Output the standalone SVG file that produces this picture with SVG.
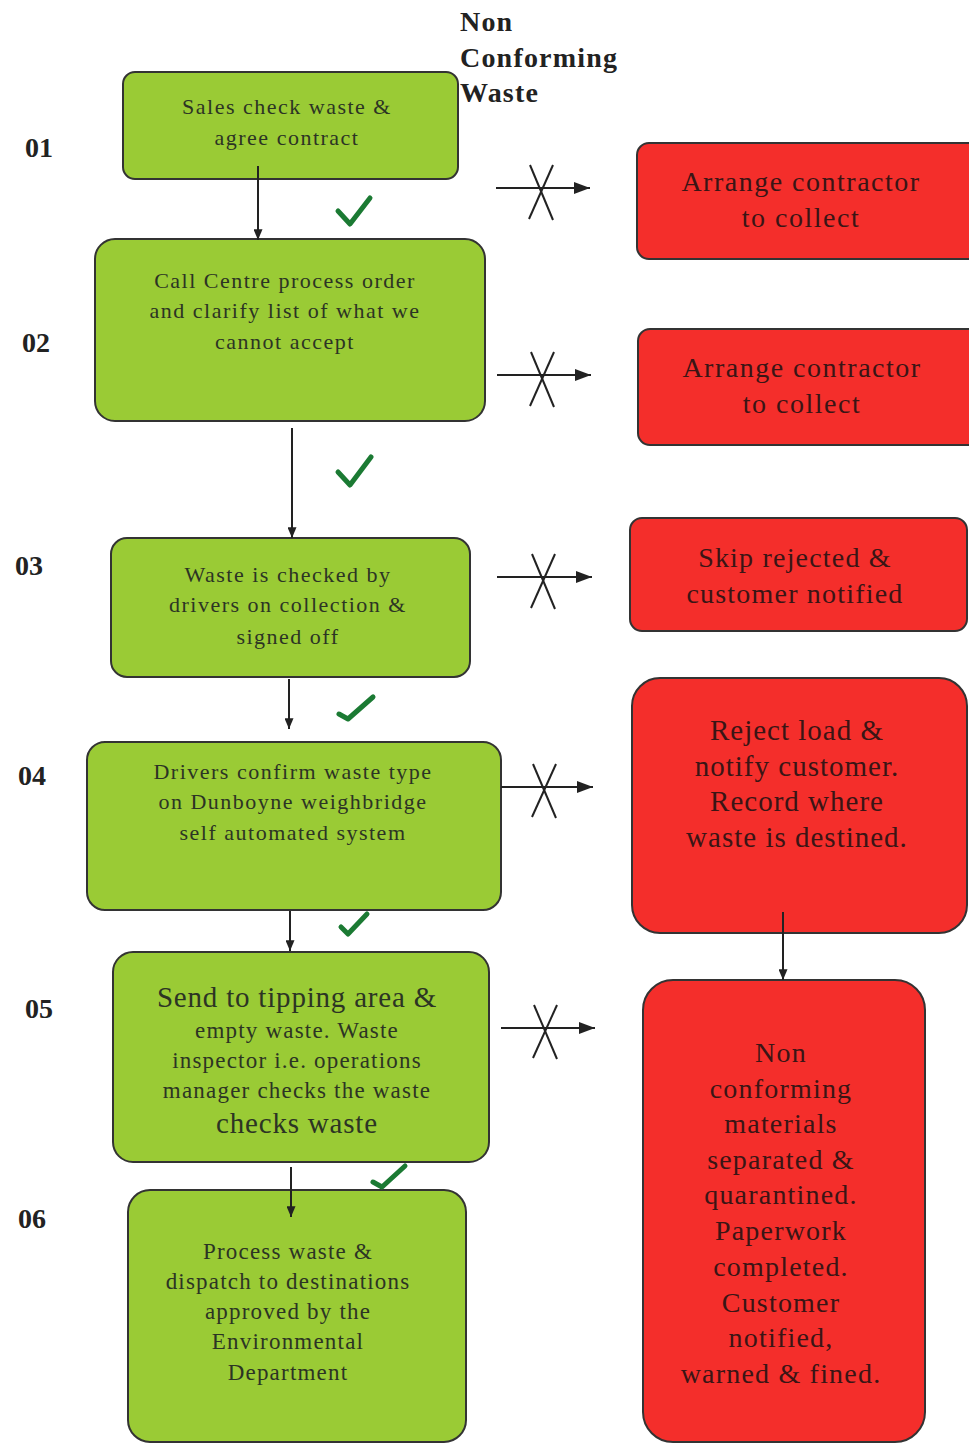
<svg xmlns="http://www.w3.org/2000/svg" width="969" height="1444" viewBox="0 0 969 1444">
<defs>
<marker id="ah" viewBox="0 0 10 12" refX="5" refY="12" markerWidth="9" markerHeight="11" markerUnits="userSpaceOnUse" orient="0">
<path d="M0,0 L10,0 L5,12 Z" fill="#222"/>
</marker>
<marker id="ahx" viewBox="0 0 16 12" refX="16" refY="6" markerWidth="16" markerHeight="12" markerUnits="userSpaceOnUse" orient="auto">
<path d="M0,0 L16,6 L0,12 Z" fill="#222"/>
</marker>
</defs>
<style>
.g{fill:#9acb35;stroke:#333;stroke-width:2}
.r{fill:#f42e2b;stroke:#333;stroke-width:2}
.t{font-family:"Liberation Serif",serif;text-anchor:middle;fill:#2c3424}
.tr{font-family:"Liberation Serif",serif;text-anchor:middle;fill:#3a1515}
.s{font-size:22px;letter-spacing:1.5px}
.m{font-size:23px;letter-spacing:1.2px}
.b{font-size:29px;letter-spacing:0.8px}
.r12{font-size:28px;letter-spacing:1.5px}
.r3{font-size:28px;letter-spacing:1.2px}
.r4{font-size:29px;letter-spacing:1px}
.r5{font-size:28px;letter-spacing:1.2px}
.num{font-family:"Liberation Serif",serif;font-weight:bold;font-size:28px;fill:#222}
.hd{font-family:"Liberation Serif",serif;font-weight:bold;font-size:28px;letter-spacing:1.2px;fill:#222}
.ln{stroke:#222;stroke-width:2;fill:none}
.ck{stroke:#1b7a33;stroke-width:5;fill:none;stroke-linecap:round;stroke-linejoin:round}
</style>
<rect width="969" height="1444" fill="#fff"/>

<g id="labels">
<text class="hd" x="460" y="31">Non</text>
<text class="hd" x="460" y="67">Conforming</text>
<text class="hd" x="460" y="102">Waste</text>
<text class="num" x="25" y="157">01</text>
<text class="num" x="22" y="352">02</text>
<text class="num" x="15" y="575">03</text>
<text class="num" x="18" y="785">04</text>
<text class="num" x="25" y="1018">05</text>
<text class="num" x="18" y="1228">06</text>
</g>

<g id="n01">
<rect class="g" x="123" y="72" width="335" height="107" rx="12"/>
<text class="t s" x="287" y="114">Sales check waste &amp;</text>
<text class="t s" x="287" y="145">agree contract</text>
</g>
<g id="n02">
<rect class="g" x="95" y="239" width="390" height="182" rx="20"/>
<text class="t s" x="285" y="288">Call Centre process order</text>
<text class="t s" x="285" y="318">and clarify list of what we</text>
<text class="t s" x="285" y="349">cannot accept</text>
</g>
<g id="n03">
<rect class="g" x="111" y="538" width="359" height="139" rx="16"/>
<text class="t s" x="288" y="582">Waste is checked by</text>
<text class="t s" x="288" y="612">drivers on collection &amp;</text>
<text class="t s" x="288" y="644">signed off</text>
</g>
<g id="n04">
<rect class="g" x="87" y="742" width="414" height="168" rx="18"/>
<text class="t s" x="293" y="779">Drivers confirm waste type</text>
<text class="t s" x="293" y="809">on Dunboyne weighbridge</text>
<text class="t s" x="293" y="840">self automated system</text>
</g>
<g id="n05">
<rect class="g" x="113" y="952" width="376" height="210" rx="20"/>
<text class="t b" x="297" y="1007">Send to tipping area &amp;</text>
<text class="t m" x="297" y="1038">empty waste. Waste</text>
<text class="t m" x="297" y="1068">inspector i.e. operations</text>
<text class="t m" x="297" y="1098">manager checks the waste</text>
<text class="t b" x="297" y="1133">checks waste</text>
</g>
<g id="n06">
<rect class="g" x="128" y="1190" width="338" height="252" rx="22"/>
<text class="t m" x="288" y="1259">Process waste &amp;</text>
<text class="t m" x="288" y="1289">dispatch to destinations</text>
<text class="t m" x="288" y="1319">approved by the</text>
<text class="t m" x="288" y="1349">Environmental</text>
<text class="t m" x="288" y="1380">Department</text>
</g>

<g id="r1">
<rect class="r" x="637" y="143" width="345" height="116" rx="12"/>
<text class="tr r12" x="801" y="191">Arrange contractor</text>
<text class="tr r12" x="801" y="227">to collect</text>
</g>
<g id="r2">
<rect class="r" x="638" y="329" width="345" height="116" rx="12"/>
<text class="tr r12" x="802" y="377">Arrange contractor</text>
<text class="tr r12" x="802" y="413">to collect</text>
</g>
<g id="r3">
<rect class="r" x="630" y="518" width="337" height="113" rx="12"/>
<text class="tr r3" x="795" y="567">Skip rejected &amp;</text>
<text class="tr r3" x="795" y="603">customer notified</text>
</g>
<g id="r4">
<rect class="r" x="632" y="678" width="335" height="255" rx="28"/>
<text class="tr r4" x="797" y="740">Reject load &amp;</text>
<text class="tr r4" x="797" y="776">notify customer.</text>
<text class="tr r4" x="797" y="811">Record where</text>
<text class="tr r4" x="797" y="847">waste is destined.</text>
</g>
<g id="r5">
<rect class="r" x="643" y="980" width="282" height="462" rx="30"/>
<text class="tr r5" x="781" y="1062">Non</text>
<text class="tr r5" x="781" y="1098">conforming</text>
<text class="tr r5" x="781" y="1133">materials</text>
<text class="tr r5" x="781" y="1169">separated &amp;</text>
<text class="tr r5" x="781" y="1204">quarantined.</text>
<text class="tr r5" x="781" y="1240">Paperwork</text>
<text class="tr r5" x="781" y="1276">completed.</text>
<text class="tr r5" x="781" y="1312">Customer</text>
<text class="tr r5" x="781" y="1347">notified,</text>
<text class="tr r5" x="781" y="1383">warned &amp; fined.</text>
</g>

<g id="connectors">
<line class="ln" x1="258" y1="166" x2="258" y2="240" marker-end="url(#ah)"/>
<line class="ln" x1="292" y1="428" x2="292" y2="538" marker-end="url(#ah)"/>
<line class="ln" x1="289" y1="679" x2="289" y2="729" marker-end="url(#ah)"/>
<line class="ln" x1="290" y1="911" x2="290" y2="951" marker-end="url(#ah)"/>
<line class="ln" x1="291" y1="1167" x2="291" y2="1217" marker-end="url(#ah)"/>
<line class="ln" x1="783" y1="912" x2="783" y2="980" marker-end="url(#ah)"/>

<line class="ln" x1="496" y1="188" x2="590" y2="188" marker-end="url(#ahx)"/>
<line class="ln" x1="530" y1="165" x2="553" y2="220"/>
<line class="ln" x1="553" y1="165" x2="529" y2="219"/>

<line class="ln" x1="497" y1="375" x2="591" y2="375" marker-end="url(#ahx)"/>
<line class="ln" x1="531" y1="352" x2="554" y2="407"/>
<line class="ln" x1="554" y1="352" x2="530" y2="406"/>

<line class="ln" x1="497" y1="577" x2="592" y2="577" marker-end="url(#ahx)"/>
<line class="ln" x1="532" y1="554" x2="555" y2="609"/>
<line class="ln" x1="555" y1="554" x2="531" y2="608"/>

<line class="ln" x1="501" y1="787" x2="593" y2="787" marker-end="url(#ahx)"/>
<line class="ln" x1="533" y1="764" x2="556" y2="818"/>
<line class="ln" x1="556" y1="764" x2="532" y2="817"/>

<line class="ln" x1="501" y1="1028" x2="595" y2="1028" marker-end="url(#ahx)"/>
<line class="ln" x1="534" y1="1005" x2="557" y2="1059"/>
<line class="ln" x1="557" y1="1005" x2="533" y2="1058"/>
</g>

<g id="checks">
<path class="ck" d="M338,211 L350,224 L370,198"/>
<path class="ck" d="M338,472 L350,485 L371,457"/>
<path class="ck" d="M339,714 L348,719 L373,697"/>
<path class="ck" d="M341,927 L348,934 L367,914"/>
<path class="ck" d="M373,1182 L382,1187 L405,1166"/>
</g>
</svg>
